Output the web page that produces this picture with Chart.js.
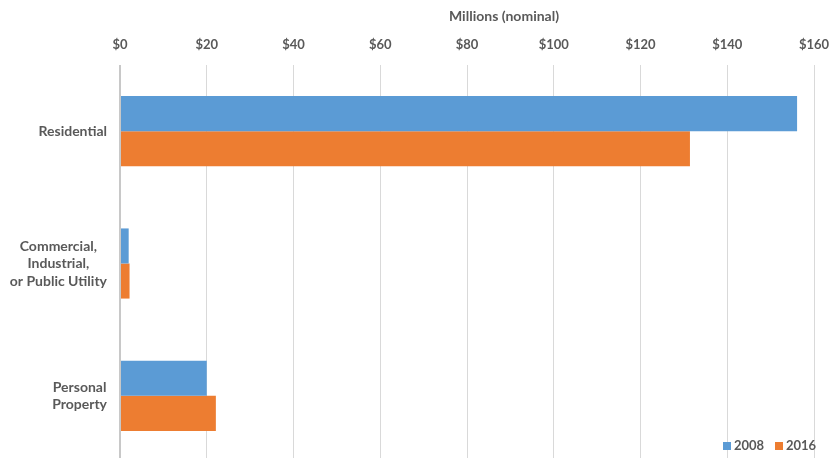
<!DOCTYPE html>
<html>
<head>
<meta charset="utf-8">
<script src="https://cdn.jsdelivr.net/npm/chart.js@4.4.1/dist/chart.umd.min.js"></script>
<style>
  html, body { margin: 0; padding: 0; background: #fff; overflow: hidden; }
  #frame { width: 833px; height: 458px; overflow: hidden; position: relative; }
  #wrap { width: 833px; height: 462px; position: absolute; left: 0; top: 0; }
</style>
</head>
<body>
<div id="frame"><div id="wrap"><canvas id="canvas"></canvas></div></div>
<script>
const categories = ['Residential', ['Commercial,', 'Industrial,', 'or Public Utility'], ['Personal', 'Property']]
const values2008 = [156.1, 2.0, 20.0]
const values2016 = [131.4, 2.2, 22.1]
const seriesNames = ['2008', '2016']
const axisTitle = 'Millions (nominal)'

const grey = '#595959'
const font = 'Lato, "Open Sans", sans-serif'

// category labels: each block right-aligned, lines centred inside the block
const catLabels = {
  id: 'catLabels',
  afterDraw(chart) {
    const c = chart.ctx
    const y = chart.scales.y
    c.save()
    c.font = 'bold 14px ' + font
    c.fillStyle = grey
    c.textAlign = 'center'
    c.textBaseline = 'middle'
    categories.forEach((cat, i) => {
      const lines = Array.isArray(cat) ? cat : [cat]
      const w = Math.max(...lines.map(l => c.measureText(l).width))
      const cx = 107 - w / 2
      const mid = y.getPixelForValue(i)
      const lh = 17.5
      lines.forEach((l, k) => {
        c.fillText(l, cx, mid + (k - (lines.length - 1) / 2) * lh)
      })
    })
    // axis title
    c.font = 'bold 14px ' + font
    c.fillText(axisTitle, 504, 16)
    c.restore()
  }
}

// small legend in the lower right corner
const cornerLegend = {
  id: 'cornerLegend',
  afterDraw(chart) {
    const c = chart.ctx
    c.save()
    c.font = 'bold 13px ' + font
    c.textBaseline = 'middle'
    c.textAlign = 'left'
    let x = 723
    const yMid = 446
    chart.data.datasets.forEach(ds => {
      c.fillStyle = ds.backgroundColor
      c.fillRect(x, yMid - 4, 8, 8)
      c.fillStyle = grey
      c.fillText(ds.label, x + 11, yMid)
      x += 52
    })
    c.restore()
  }
}

const ctx = document.getElementById('canvas')
const myChart = new Chart(ctx, {
  type: 'bar',
  data: {
    labels: categories,
    datasets: [{
      label: seriesNames[0],
      data: values2008,
      backgroundColor: '#5B9BD5',
      categoryPercentage: 0.53,
      barPercentage: 1
    }, {
      label: seriesNames[1],
      data: values2016,
      backgroundColor: '#ED7D31',
      categoryPercentage: 0.53,
      barPercentage: 1
    }]
  },
  options: {
    indexAxis: 'y',
    responsive: true,
    maintainAspectRatio: false,
    animation: false,
    layout: { padding: 0 },
    plugins: {
      legend: { display: false },
      tooltip: { enabled: false }
    },
    scales: {
      x: {
        position: 'top',
        min: 0,
        max: 160,
        border: { display: false },
        grid: {
          drawTicks: false,
          color: c => c.tick && c.tick.value === 0 ? '#c8c8c8' : '#d9d9d9',
          lineWidth: c => c.tick && c.tick.value === 0 ? 2 : 1
        },
        ticks: {
          stepSize: 20,
          padding: 12,
          color: grey,
          font: { family: font, size: 13, weight: 'bold' },
          callback: v => '$' + v
        },
        afterFit: s => {
          s.height = 65
          s.paddingLeft = 0
          s.paddingRight = 19
        }
      },
      y: {
        border: { display: false },
        grid: { display: false },
        ticks: { display: false },
        afterFit: s => { s.width = 120 }
      }
    }
  },
  plugins: [catLabels, cornerLegend]
});
</script>
</body>
</html>
